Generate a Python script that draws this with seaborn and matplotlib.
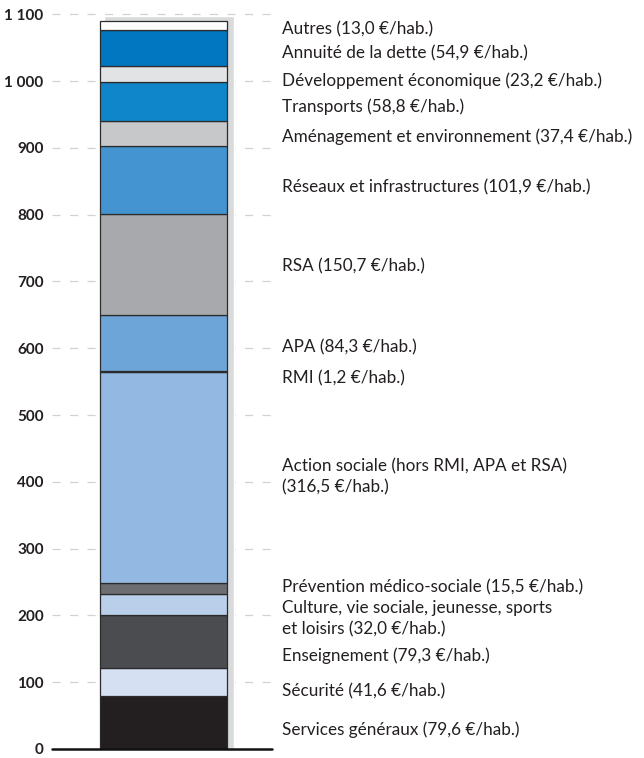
import pandas as pd
import seaborn as sns
import matplotlib.pyplot as plt
import matplotlib.transforms as mtransforms

# budget segments, bottom to top
names = ["Services généraux", "Sécurité", "Enseignement",
         "Culture, vie sociale, jeunesse, sports\net loisirs",
         "Prévention médico-sociale",
         "Action sociale (hors RMI, APA et RSA)\n",
         "RMI", "APA", "RSA", "Réseaux et infrastructures",
         "Aménagement et environnement", "Transports",
         "Développement économique", "Annuité de la dette", "Autres"]
values = [79.6, 41.6, 79.3, 32.0, 15.5, 316.5, 1.2, 84.3, 150.7,
          101.9, 37.4, 58.8, 23.2, 54.9, 13.0]
colors = ["#231f20", "#d5e0f2", "#4a4c4f", "#b9cfea", "#6b6d70",
          "#93b8e2", "#2a2a2a", "#6ea5d8", "#a7a9ac", "#4394d0",
          "#c7c8ca", "#0f86c9", "#e2e3e4", "#0077c0", "#ffffff"]
yticks = [0, 100, 200, 300, 400, 500, 600, 700, 800, 900, 1000, 1100]

# where the labels sit (data units), spread out where segments are thin
label_y = [29, 87, 139, 195, 242, 407, 555, 601, 723, 841, 917, 961, 1001, 1041, 1077]

sns.set_style("white")
plt.rcParams['font.family'] = ['Lato', 'DejaVu Sans']
text_color = "#231f20"

fig = plt.figure(figsize=(6.44, 7.58), dpi=100)
ax = fig.add_axes([52 / 644, 9 / 758, 220 / 644, 746 / 758])

bar_w = 0.577
total = sum(values)

# drop shadow behind the column
shadow = mtransforms.offset_copy(ax.transData, fig=fig, x=5.5, y=0, units="dots")
ax.bar(0, total + 7, width=bar_w * 130 / 127, color="#d9dadb",
       transform=shadow, zorder=1)

bottom = 0
for name, val, col in zip(names, values, colors):
    df = pd.DataFrame({"cat": [""], "val": [val]})
    sns.barplot(data=df, x="cat", y="val", ax=ax, color=col, width=bar_w,
                bottom=bottom, edgecolor="#2b2b2b", linewidth=0.9,
                saturation=1, zorder=3)
    bottom += val

ax.set_xlim(-0.507, 0.493)
ax.set_ylim(0, 1117)

for t in yticks[1:]:
    ax.axhline(t, color="#d2d2d2", lw=0.9, ls=(0, (6.5, 7.5)), zorder=0)
ax.axhline(0, color="#111111", lw=1.8, zorder=5, clip_on=False)

ax.set_yticks(yticks)
ax.set_yticklabels([f"{t:,}".replace(",", " ") for t in yticks],
                   fontweight="bold", fontsize=11, color=text_color)
ax.tick_params(axis="y", length=0, pad=6)
ax.set_xticks([])
ax.set_xlabel("")
ax.set_ylabel("")
sns.despine(ax=ax, left=True, bottom=True)

trans = mtransforms.blended_transform_factory(ax.transAxes, ax.transData)
for name, val, y in zip(names, values, label_y):
    sep = "" if name.endswith("\n") else " "
    txt = name + sep + "(" + f"{val:.1f}".replace(".", ",") + " €/hab.)"
    ax.text(1.045, y, txt, transform=trans, ha="left", va="center",
            fontsize=12.3, color=text_color, linespacing=1.35, clip_on=False)

fig.savefig("out.png", dpi=100)
